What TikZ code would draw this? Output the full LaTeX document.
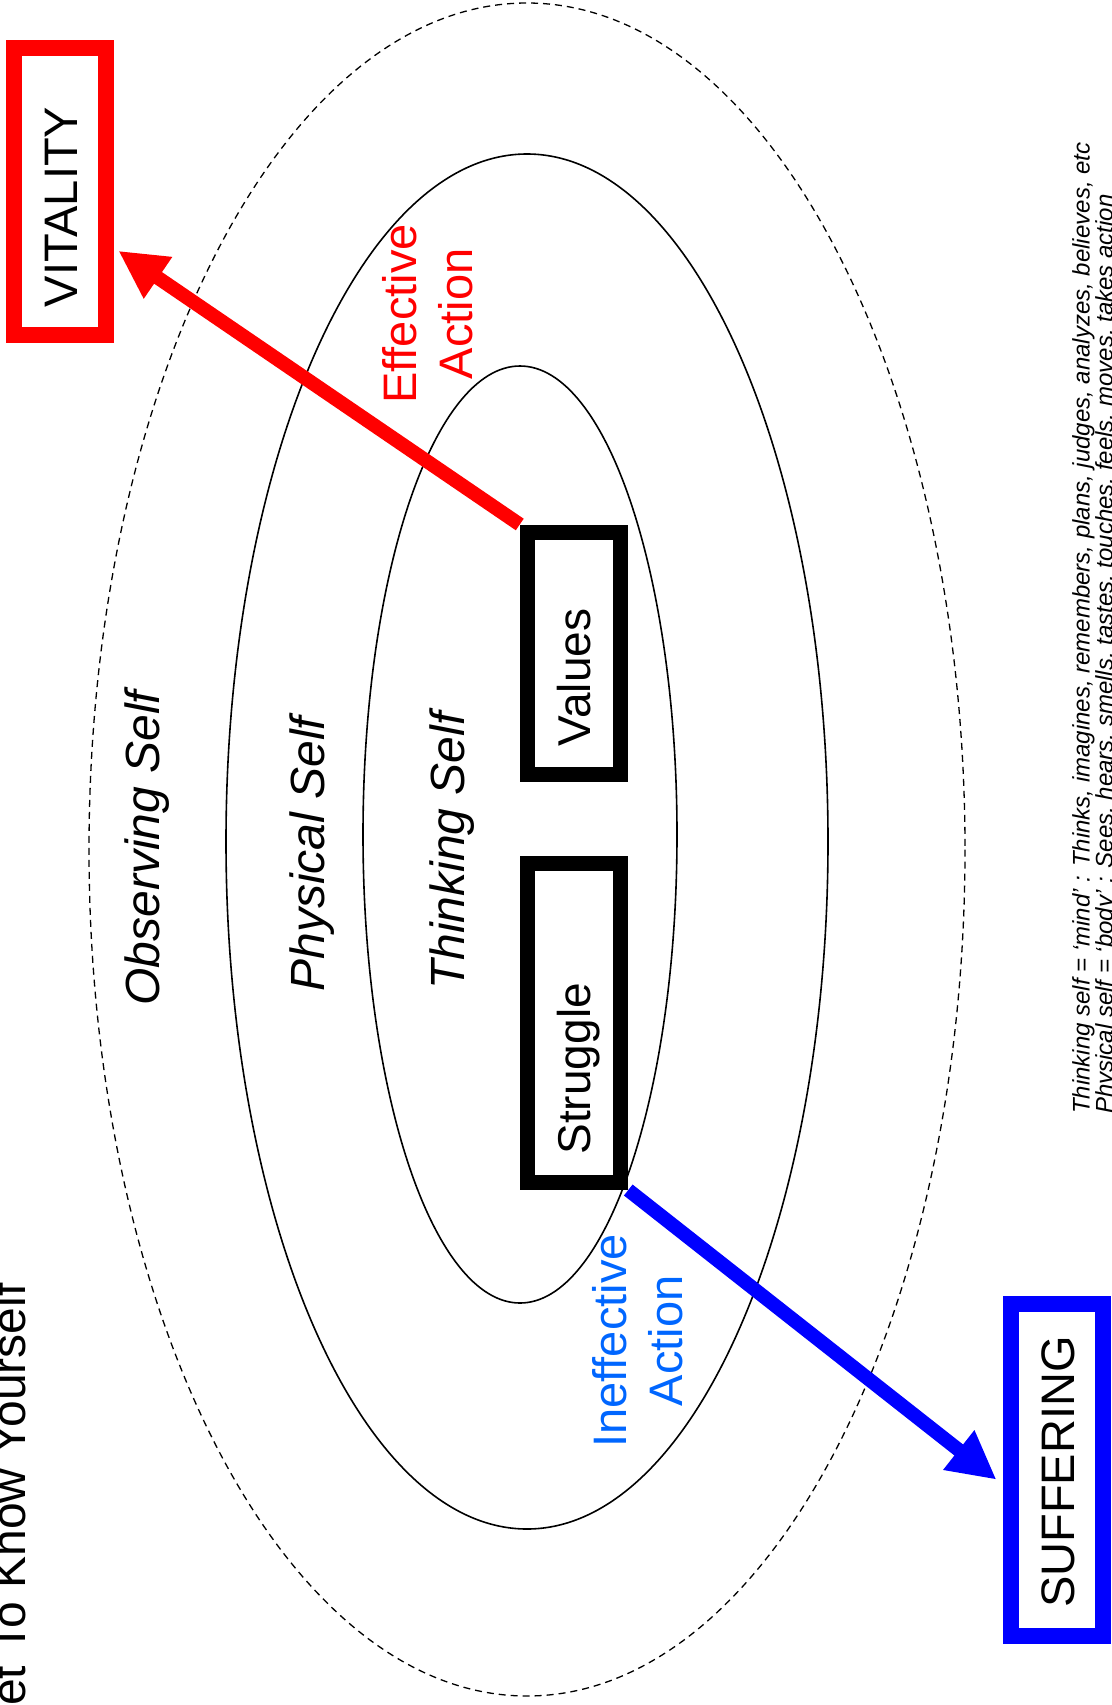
\documentclass[tikz,border=0pt]{standalone}
\usepackage{fontspec}
\setmainfont{Liberation Sans}
\usetikzlibrary{arrows.meta,calc}

\definecolor{vitalred}{RGB}{255,0,0}
\definecolor{sufferblue}{RGB}{0,0,255}
\definecolor{ineffblue}{RGB}{0,102,255}

\tikzset{
  ring/.style={line width=1.6pt},
  outerring/.style={line width=1.3pt, dash pattern=on 7pt off 5pt},
  selflabel/.style={rotate=90, anchor=base, inner sep=0pt, font=\fontsize{48}{58}\selectfont\itshape},
  actionlabel/.style={rotate=90, align=center, inner sep=0pt, font=\fontsize{47}{56}\selectfont},
  framebox/.style={rectangle, draw, fill=white, rotate=90, line width=15pt, inner xsep=28pt, inner ysep=0pt,
    align=left, text height=33pt, text depth=0pt, font=\fontsize{46}{55}\selectfont},
  goalbox/.style={framebox, line width=16pt, text height=34pt, font=\fontsize{47}{56}\selectfont},
  bigarrow/.style={line width=14pt, -{Triangle[length=48pt,width=47pt]}}
}

\begin{document}
\begin{tikzpicture}[x=1pt,y=-1pt]
            \useasboundingbox (0,0) rectangle (1111,1705);
            \clip (0,0) rectangle (1111,1705);
            % the three selves
            \draw [outerring] (527,849.5) ellipse [x radius=438, y radius=846.5];
            \draw [ring] (527,841.5) ellipse [x radius=301, y radius=687.5];
            \draw [ring] (520,834.5) ellipse [x radius=157, y radius=468.5];
            \node (observing) at (159,848) [selflabel] {Observing Self};
            \node (physical) at (324,854) [selflabel] {Physical Self};
            \node (thinking) at (464,851) [selflabel] {Thinking Self};
            % boxes
            \node (values) at (574,653) [framebox, text width=186pt, minimum height=93.5pt] {Values};
            \node (struggle) at (574,1023) [framebox, text width=263pt, minimum height=93.5pt] {Struggle};
            \node (vitality) at (60,191.5) [goalbox, draw=vitalred, text width=231pt, minimum height=92.5pt] {VITALITY};
            \node (suffering) at (1057,1470) [goalbox, draw=sufferblue, text width=275.5pt, minimum height=92.5pt] {SUFFERING};
            % actions
            \draw [bigarrow, vitalred, shorten >=5pt] (values.north east) -- ($(vitality.south)!.373!(vitality.south west)$);
            \draw [bigarrow, sufferblue, shorten >=8pt] (struggle.south west) -- ($(suffering.north)!.084!(suffering.north west)$);
            \node (effective) at (428,314) [actionlabel, text=vitalred] {Effective\\Action};
            \node (ineffective) at (638,1341) [actionlabel, text=ineffblue] {Ineffective\\Action};
            % title and notes, cut by the page edge
            \node (title) at (25,1706) [rotate=90, anchor=base west, inner sep=0pt, font=\fontsize{48}{58}\selectfont] {et To Know Yourself};
            \node (notes) at (1072,1114) [rotate=90, anchor=north west, inner sep=0pt, align=left, font=\fontsize{24}{23}\selectfont\itshape]
              {Thinking self = `mind' : Thinks, imagines, remembers, plans, judges, analyzes, believes, etc\\
               Physical self = `body' : Sees, hears, smells, tastes, touches, feels, moves, takes action};
        \end{tikzpicture}
\end{document}
